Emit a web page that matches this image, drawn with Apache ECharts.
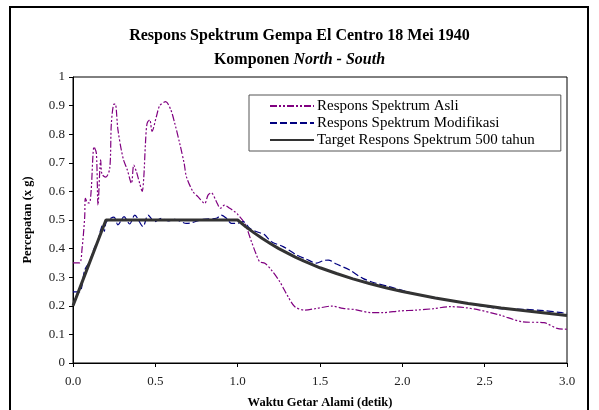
<!DOCTYPE html>
<html>
<head>
<meta charset="utf-8">
<script src="https://cdn.jsdelivr.net/npm/echarts@6/dist/echarts.min.js"></script>
<style>
  html, body { margin: 0; padding: 0; background: #fff; }
  #chart { width: 599px; height: 410px; }
</style>
</head>
<body>
<div id="chart"></div>
<script>
// periode (detik) dan percepatan (x g)
var periodeAsli = [0, 0.04, 0.055, 0.071, 0.075, 0.09, 0.10, 0.11, 0.128, 0.142, 0.152, 0.168, 0.176, 0.199, 0.223, 0.233, 0.249, 0.257, 0.273, 0.304, 0.33, 0.355, 0.369, 0.385, 0.405, 0.42, 0.43, 0.44, 0.45, 0.466, 0.48, 0.506, 0.527, 0.563, 0.594, 0.618, 0.648, 0.675, 0.689, 0.729, 0.76, 0.80, 0.82, 0.84, 0.871, 0.895, 0.92, 0.952, 0.982, 1.0, 1.043, 1.084, 1.114, 1.134, 1.165, 1.205, 1.256, 1.306, 1.347, 1.408, 1.48, 1.573, 1.64, 1.72, 1.81, 1.88, 1.985, 2.086, 2.19, 2.29, 2.39, 2.47, 2.59, 2.73, 2.86, 2.94, 3.0];
var nilaiAsli = [0.35, 0.35, 0.40, 0.51, 0.576, 0.56, 0.56, 0.60, 0.756, 0.733, 0.552, 0.71, 0.66, 0.65, 0.68, 0.838, 0.905, 0.905, 0.815, 0.716, 0.675, 0.628, 0.692, 0.669, 0.628, 0.60, 0.65, 0.768, 0.838, 0.85, 0.81, 0.861, 0.90, 0.914, 0.885, 0.838, 0.768, 0.698, 0.651, 0.599, 0.581, 0.558, 0.587, 0.595, 0.564, 0.541, 0.552, 0.541, 0.529, 0.52, 0.488, 0.424, 0.378, 0.354, 0.349, 0.325, 0.284, 0.232, 0.197, 0.185, 0.191, 0.199, 0.191, 0.186, 0.176, 0.176, 0.182, 0.185, 0.19, 0.197, 0.193, 0.185, 0.168, 0.144, 0.141, 0.121, 0.118];

var periodeModif = [0, 0.04, 0.071, 0.10, 0.128, 0.152, 0.168, 0.18, 0.19, 0.203, 0.249, 0.273, 0.31, 0.344, 0.375, 0.425, 0.456, 0.496, 0.537, 0.577, 0.618, 0.689, 0.79, 0.871, 0.90, 0.932, 0.962, 0.993, 1.033, 1.073, 1.124, 1.16, 1.205, 1.276, 1.357, 1.418, 1.479, 1.52, 1.55, 1.60, 1.68, 1.76, 1.84, 1.92, 2.005, 2.13, 2.29, 2.45, 2.61, 2.73, 2.86, 2.97, 3.0];
var nilaiModif = [0.249, 0.249, 0.325, 0.354, 0.40, 0.43, 0.465, 0.483, 0.46, 0.494, 0.51, 0.483, 0.512, 0.486, 0.517, 0.477, 0.517, 0.494, 0.506, 0.497, 0.502, 0.488, 0.502, 0.506, 0.517, 0.506, 0.488, 0.488, 0.494, 0.471, 0.457, 0.45, 0.424, 0.407, 0.378, 0.363, 0.349, 0.358, 0.36, 0.346, 0.325, 0.296, 0.279, 0.267, 0.253, 0.234, 0.218, 0.203, 0.189, 0.188, 0.183, 0.176, 0.174];

var periodeTarget = [0, 0.05, 0.1, 0.15, 0.2, 1.0, 1.05, 1.1, 1.15, 1.2, 1.25, 1.3, 1.35, 1.4, 1.5, 1.6, 1.7, 1.8, 1.9, 2.0, 2.2, 2.4, 2.6, 2.8, 3.0];
var nilaiTarget = [0.2, 0.275, 0.35, 0.425, 0.5, 0.5, 0.476, 0.455, 0.435, 0.417, 0.4, 0.385, 0.37, 0.357, 0.333, 0.313, 0.294, 0.278, 0.263, 0.25, 0.227, 0.208, 0.192, 0.179, 0.166];

var namaSeri = ["Respons Spektrum Asli", "Respons Spektrum Modifikasi", "Target Respons Spektrum 500 tahun"];

function gabung(xs, ys) {
  var out = [];
  for (var i = 0; i < xs.length; i++) out.push([xs[i], ys[i]]);
  return out;
}

var font = "'Liberation Serif', 'Times New Roman', serif";
var chart = echarts.init(document.getElementById("chart"));
chart.setOption({
  animation: false,
  textStyle: { fontFamily: font },
  title: {
    left: "center",
    top: 23,
    itemGap: 8,
    text: "Respons Spektrum Gempa El Centro 18 Mei 1940",
    subtext: "{b|Komponen }{i|North - South}",
    textStyle: { fontFamily: font, fontSize: 16, fontWeight: "bold", color: "#000" },
    subtextStyle: {
      rich: {
        b: { fontFamily: font, fontSize: 16, fontWeight: "bold", color: "#000" },
        i: { fontFamily: font, fontSize: 16, fontWeight: "bold", fontStyle: "italic", color: "#000" }
      }
    }
  },
  legend: {
    orient: "vertical",
    left: 249,
    top: 95,
    itemGap: 1,
    itemWidth: 44,
    itemHeight: 12,
    padding: [3, 26, 3, 20],
    borderColor: "#555",
    borderWidth: 1,
    itemStyle: { opacity: 0 },
    textStyle: { fontFamily: font, fontSize: 15, lineHeight: 16, color: "#000", padding: [0, 0, 0, -2] },
    data: namaSeri
  },
  grid: {
    left: 73, top: 77, width: 494, height: 286,
    outerBoundsMode: "none",
    containLabel: false,
    show: true, borderColor: "#000", borderWidth: 1
  },
  xAxis: {
    type: "value",
    min: 0, max: 3, interval: 0.5,
    name: "Waktu Getar Alami (detik)",
    nameLocation: "middle",
    nameGap: 33,
    nameTextStyle: { fontFamily: font, fontSize: 12.5, fontWeight: "bold", color: "#000" },
    axisLine: { lineStyle: { color: "#000", width: 1 } },
    axisTick: { length: 4, lineStyle: { color: "#000" } },
    axisLabel: { fontSize: 13, color: "#222", margin: 12, formatter: function (v) { return v.toFixed(1); } },
    splitLine: { show: false }
  },
  yAxis: {
    type: "value",
    min: 0, max: 1, interval: 0.1,
    name: "Percepatan (x g)",
    nameLocation: "middle",
    nameGap: 39,
    nameTextStyle: { fontFamily: font, fontSize: 12.5, fontWeight: "bold", color: "#000" },
    axisLine: { show: true, lineStyle: { color: "#000", width: 1 } },
    axisTick: { show: true, length: 4, lineStyle: { color: "#000" } },
    axisLabel: { fontSize: 13, color: "#222", margin: 8 },
    splitLine: { show: false }
  },
  graphic: [{
    type: "rect",
    shape: { x: 10, y: 7, width: 578, height: 410 },
    style: { fill: null, stroke: "#000", lineWidth: 2 },
    silent: true
  }],
  series: [
    {
      name: namaSeri[0],
      type: "line",
      symbol: "none",
      smooth: 0.3,
      data: gabung(periodeAsli, nilaiAsli),
      lineStyle: { color: "#800080", width: 1.2, type: [7, 2, 2, 2, 2, 2] },
      itemStyle: { color: "#800080" }
    },
    {
      name: namaSeri[1],
      type: "line",
      symbol: "none",
      smooth: 0.3,
      data: gabung(periodeModif, nilaiModif),
      lineStyle: { color: "#000080", width: 1.2, type: [7, 3] },
      itemStyle: { color: "#000080" }
    },
    {
      name: namaSeri[2],
      type: "line",
      symbol: "none",
      smooth: false,
      data: gabung(periodeTarget, nilaiTarget),
      lineStyle: { color: "#333", width: 3 },
      itemStyle: { color: "#333" }
    }
  ]
});
</script>
</body>
</html>
